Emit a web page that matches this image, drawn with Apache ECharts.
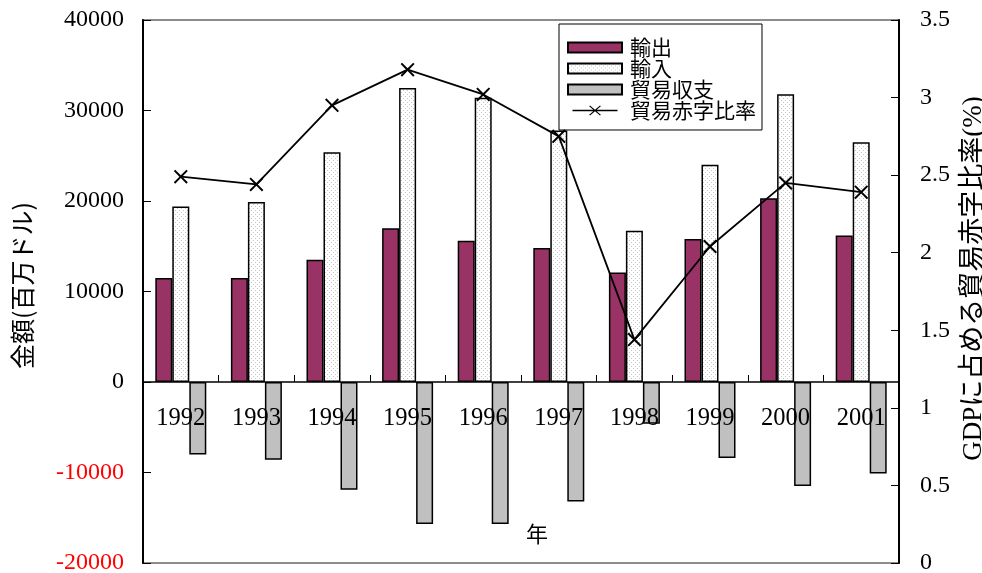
<!DOCTYPE html>
<html>
<head>
<meta charset="utf-8">
<script src="https://cdn.jsdelivr.net/npm/echarts@6/dist/echarts.min.js"></script>
<style>
  html, body { margin: 0; padding: 0; background: #fff; }
  #chart { width: 982px; height: 573px; }
</style>
</head>
<body>
<div id="chart"></div>
<script>
// Trade figures by year (million US dollars) and deficit share of GDP (%)
const years = ['1992', '1993', '1994', '1995', '1996', '1997', '1998', '1999', '2000', '2001'];
const exportsMil = [11500, 11500, 13500, 17000, 15600, 14800, 12100, 15800, 20300, 16200];
const importsMil = [19400, 19900, 25400, 32500, 31400, 27800, 16700, 24000, 31800, 26500];
const balanceMil = [-8000, -8600, -11900, -15700, -15700, -13200, -4600, -8400, -11500, -10100];
const deficitRatio = [2.49, 2.44, 2.95, 3.18, 3.02, 2.75, 1.44, 2.04, 2.45, 2.39];

const leftTicks = { min: -20000, max: 40000, step: 10000 };
const rightTicks = { min: 0, max: 3.5, step: 0.5 };

const serif = '"Liberation Serif", "Times New Roman", serif';
const gothic = '"Noto Sans CJK JP", "Noto Sans", sans-serif';
const mixed = '"Liberation Serif", "Noto Sans CJK JP", serif';

const gridBox = { left: 143, right: 83, top: 20, bottom: 10 };
const chartH = 573;

// the category axis is lifted from the grid bottom up to the zero line of the left axis
const plotH = chartH - gridBox.top - gridBox.bottom;
const zeroLift = -plotH * (0 - leftTicks.min) / (leftTicks.max - leftTicks.min);

// light dotted fill for the import bars
function dotPattern() {
  const c = document.createElement('canvas');
  c.width = 4; c.height = 4;
  const g = c.getContext('2d');
  g.fillStyle = '#ffffff';
  g.fillRect(0, 0, 4, 4);
  g.fillStyle = '#c4c4c4';
  g.fillRect(1, 0, 1, 1);
  g.fillRect(3, 2, 1, 1);
  return c;
}

// filled "x" marker
const crossMark = 'path://M0,1L1,0L5,4L9,0L10,1L6,5L10,9L9,10L5,6L1,10L0,9L4,5Z';
// legend icon: short line with an "x" in its middle
const lineCrossIcon = 'path://M0,5L54,5L54,7L0,7Z' +
  'M20,1L21,0L27,5.1L33,0L34,1L28,6L34,11L33,12L27,6.9L21,12L20,11L26,6Z';

const plain = (v) => String(v);

const chart = echarts.init(document.getElementById('chart'), null, { renderer: 'canvas' });

const barBorder = { borderColor: '#000', borderWidth: 1.5 };

chart.setOption({
  animation: false,
  backgroundColor: '#fff',
  grid: Object.assign({
    containLabel: false,
    outerBoundsMode: 'none',
    show: true, borderColor: '#8c8c8c', borderWidth: 2, backgroundColor: 'transparent'
  }, gridBox),
  legend: {
    orient: 'vertical',
    left: 559, top: 24,
    padding: [13, 6, 9, 8],
    itemGap: 0,
    itemWidth: 54, itemHeight: 10,
    borderColor: '#000', borderWidth: 1, borderRadius: 0,
    backgroundColor: '#fff',
    textStyle: { fontFamily: gothic, fontSize: 21, lineHeight: 18, color: '#000', padding: [0, 0, 0, 3] },
    data: [
      { name: '輸出', icon: 'rect' },
      { name: '輸入', icon: 'rect' },
      { name: '貿易収支', icon: 'rect' },
      { name: '貿易赤字比率', icon: lineCrossIcon }
    ]
  },
  xAxis: {
    type: 'category',
    data: years,
    z: 5,
    position: 'bottom',
    offset: zeroLift,
    boundaryGap: true,
    axisLine: { onZero: false, lineStyle: { color: '#000', width: 1.5 } },
    axisTick: { show: true, inside: true, length: 7, lineStyle: { color: '#000', width: 1 } },
    axisLabel: { margin: 24, fontFamily: serif, fontSize: 24.5, color: '#000', interval: 0 },
    splitLine: { show: false },
    name: '年',
    nameLocation: 'middle',
    nameGap: 141,
    nameTextStyle: { fontFamily: gothic, fontSize: 22, color: '#000', padding: [0, 0, 0, 32] }
  },
  yAxis: [
    {
      type: 'value',
      min: leftTicks.min, max: leftTicks.max, interval: leftTicks.step,
      axisLine: { show: true, onZero: false, lineStyle: { color: '#000', width: 2 } },
      axisTick: { show: true, inside: true, length: 8, lineStyle: { color: '#000', width: 1 } },
      splitLine: { show: false },
      axisLabel: {
        margin: 19, fontFamily: serif, fontSize: 24, formatter: plain,
        color: (v) => (Number(v) < 0 ? '#ff0000' : '#000')
      },
      name: '金額(百万ドル)',
      nameLocation: 'middle',
      nameRotate: 90,
      nameGap: 108,
      nameTextStyle: { fontFamily: gothic, fontSize: 25, color: '#000', padding: [0, 0, 0, 12] }
    },
    {
      type: 'value',
      position: 'right',
      min: rightTicks.min, max: rightTicks.max, interval: rightTicks.step,
      axisLine: { show: true, onZero: false, lineStyle: { color: '#000', width: 2 } },
      axisTick: { show: true, inside: true, length: 8, lineStyle: { color: '#000', width: 1 } },
      splitLine: { show: false },
      axisLabel: { margin: 21, fontFamily: serif, fontSize: 24, color: '#000', formatter: plain },
      name: 'GDPに占める貿易赤字比率(%)',
      nameLocation: 'middle',
      nameRotate: 90,
      nameGap: 57,
      nameTextStyle: { fontFamily: mixed, fontSize: 27, color: '#000', padding: [0, 0, 0, 26] }
    }
  ],
  series: [
    {
      name: '輸出', type: 'bar', yAxisIndex: 0,
      data: exportsMil, barWidth: 17, barGap: '0%',
      itemStyle: Object.assign({ color: '#993366' }, barBorder)
    },
    {
      name: '輸入', type: 'bar', yAxisIndex: 0,
      data: importsMil, barWidth: 17, barGap: '0%',
      itemStyle: Object.assign({ color: { image: dotPattern(), repeat: 'repeat' } }, barBorder)
    },
    {
      name: '貿易収支', type: 'bar', yAxisIndex: 0,
      data: balanceMil, barWidth: 17, barGap: '0%',
      itemStyle: Object.assign({ color: '#c0c0c0' }, barBorder)
    },
    {
      name: '貿易赤字比率', type: 'line', yAxisIndex: 1,
      data: deficitRatio,
      z: 10,
      symbol: crossMark, symbolSize: 14,
      itemStyle: { color: '#000' },
      lineStyle: { color: '#000', width: 1.8 }
    }
  ]
});
</script>
</body>
</html>
